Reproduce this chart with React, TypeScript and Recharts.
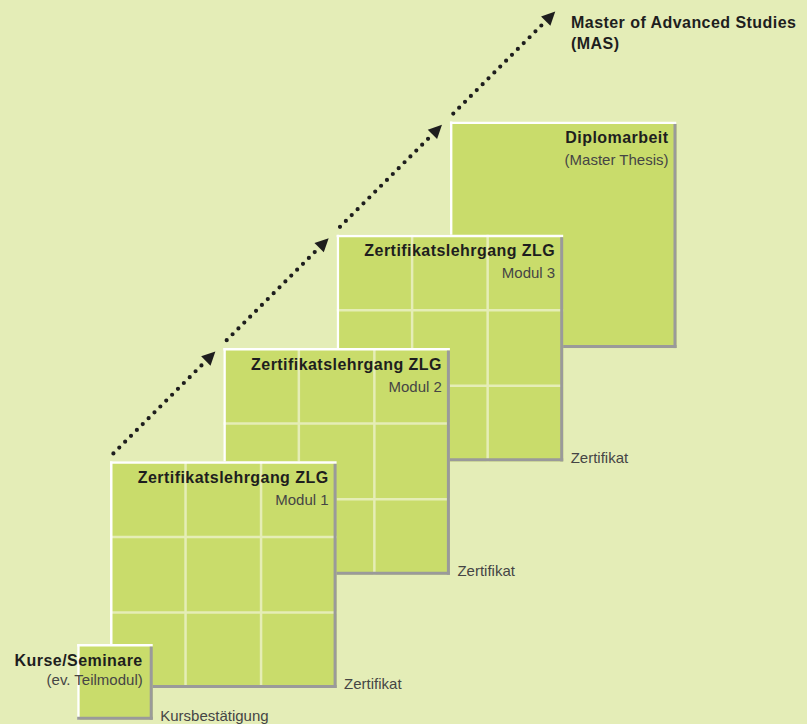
import React from 'react';
import { ComposedChart, XAxis, YAxis, ReferenceArea, ReferenceLine, ReferenceDot } from 'recharts';

const W = 807;
const H = 724;
// step units: one step = horizontal/vertical offset between consecutive stages
const X_DOMAIN: [number, number] = [-0.971, 6.152];
const Y_DOMAIN: [number, number] = [-0.318, 6.072];

// stages, drawn back to front
const boxTitles = ['Diplomarbeit', 'Zertifikatslehrgang ZLG', 'Zertifikatslehrgang ZLG', 'Zertifikatslehrgang ZLG', 'Kurse/Seminare'];
const boxSubtitles = ['(Master Thesis)', 'Modul 3', 'Modul 2', 'Modul 1', '(ev. Teilmodul)'];
const boxOutcomes = ['', 'Zertifikat', 'Zertifikat', 'Zertifikat', 'Kursbestätigung'];
const boxX = [3, 2, 1, 0, -0.29];
const boxY = [3, 2, 1, 0, -0.28];
const boxSize = [2, 2, 2, 2, 0.667];
const boxGrid = [1, 3, 3, 3, 1];

// dotted progression arrows
const arrowStartX = [0.03, 1.03, 2.03, 3.03];
const arrowStartY = [2.07, 3.07, 4.07, 5.07];
const arrowEndX = [0.93, 1.93, 2.93, 3.93];
const arrowEndY = [2.97, 3.97, 4.97, 5.97];

const goalLines = ['Master of Advanced Studies', '(MAS)'];
const goalX = 4.069;
const goalY = 5.821;

const BG = '#e4edb7';
const FILL = '#c9dc6b';
const GRIDC = '#e5edb6';
const GRAY = '#9a9a9a';
const DARK = '#1e1e1e';
const TEXT = '#454545';
const FONT = '"Liberation Sans", Arial, Helvetica, sans-serif';

const makeBox = (i: number) => (p: any) => {
  const x = Number(p.x);
  const y = Number(p.y);
  const w = Number(p.width);
  const h = Number(p.height);
  const n = boxGrid[i];
  const small = boxSize[i] < 1;
  const lines: React.ReactNode[] = [];
  for (let k = 1; k < n; k++) {
    lines.push(<line key={'v' + k} x1={x + (w * k) / n} y1={y} x2={x + (w * k) / n} y2={y + h} stroke={GRIDC} strokeWidth={2.5} />);
    lines.push(<line key={'h' + k} x1={x} y1={y + (h * k) / n} x2={x + w} y2={y + (h * k) / n} stroke={GRIDC} strokeWidth={2.5} />);
  }
  const pad = small ? 10 : 8;
  return (
    <g>
      <rect x={x} y={y} width={w} height={h} fill={FILL} />
      {lines}
      <line x1={x} y1={y + 1.25} x2={x + w} y2={y + 1.25} stroke="#ffffff" strokeWidth={2.5} />
      <line x1={x + 1.25} y1={y} x2={x + 1.25} y2={y + h} stroke="#ffffff" strokeWidth={2.5} />
      <line x1={x + w - 1.5} y1={y + 2.5} x2={x + w - 1.5} y2={y + h} stroke={GRAY} strokeWidth={3} />
      <line x1={x} y1={y + h - 1.5} x2={x + w} y2={y + h - 1.5} stroke={GRAY} strokeWidth={3} />
      <text x={x + w - pad} y={y + (small ? 22 : 21.5)} textAnchor="end" fontFamily={FONT} fontWeight="bold" fontSize={16} letterSpacing={0.45} fill={DARK}>
        {boxTitles[i]}
      </text>
      <text x={x + w - pad} y={y + (small ? 40.5 : 43.5)} textAnchor="end" fontFamily={FONT} fontSize={15} fill={TEXT}>
        {boxSubtitles[i]}
      </text>
      {boxOutcomes[i] ? (
        <text x={x + w + 7.5} y={y + h + 1.5} fontFamily={FONT} fontSize={15} fill={TEXT}>
          {boxOutcomes[i]}
        </text>
      ) : null}
    </g>
  );
};

const Arrow = (p: any) => {
  const x1 = Number(p.x1);
  const y1 = Number(p.y1);
  const x2 = Number(p.x2);
  const y2 = Number(p.y2);
  const dx = x2 - x1;
  const dy = y2 - y1;
  const len = Math.hypot(dx, dy) || 1;
  const ux = dx / len;
  const uy = dy / len;
  const headL = 13.5;
  const headW = 6.6;
  const bx = x2 - ux * headL;
  const by = y2 - uy * headL;
  const px = -uy;
  const py = ux;
  return (
    <g>
      <line x1={x1} y1={y1} x2={bx - ux * 2} y2={by - uy * 2} stroke={DARK} strokeWidth={4.2} strokeLinecap="round" strokeDasharray="0 8.3" />
      <polygon points={`${x2},${y2} ${bx + px * headW},${by + py * headW} ${bx - px * headW},${by - py * headW}`} fill={DARK} />
    </g>
  );
};

const Goal = (p: any) => {
  const cx = Number(p.cx);
  const cy = Number(p.cy);
  return (
    <g>
      {goalLines.map((t, k) => (
        <text key={k} x={cx} y={cy + k * 21} fontFamily={FONT} fontWeight="bold" fontSize={16} letterSpacing={0.45} fill={DARK}>
          {t}
        </text>
      ))}
    </g>
  );
};

export default function App() {
  return (
    <div style={{ position: 'absolute', left: 0, top: 0, width: W, height: H, background: BG }}>
      <ComposedChart width={W} height={H} data={[]} margin={{ top: 0, right: 0, bottom: 0, left: 0 }}>
        <XAxis type="number" dataKey="x" domain={X_DOMAIN} allowDataOverflow hide />
        <YAxis type="number" dataKey="y" domain={Y_DOMAIN} allowDataOverflow hide />
        {boxTitles.map((_, i) => (
          <ReferenceArea
            key={'box' + i}
            x1={boxX[i]}
            x2={boxX[i] + boxSize[i]}
            y1={boxY[i]}
            y2={boxY[i] + boxSize[i]}
            ifOverflow="visible"
            shape={makeBox(i)}
          />
        ))}
        {arrowStartX.map((_, i) => (
          <ReferenceLine
            key={'arr' + i}
            segment={[
              { x: arrowStartX[i], y: arrowStartY[i] },
              { x: arrowEndX[i], y: arrowEndY[i] },
            ]}
            ifOverflow="visible"
            shape={Arrow}
          />
        ))}
        <ReferenceDot x={goalX} y={goalY} ifOverflow="visible" shape={Goal} />
      </ComposedChart>
    </div>
  );
}
